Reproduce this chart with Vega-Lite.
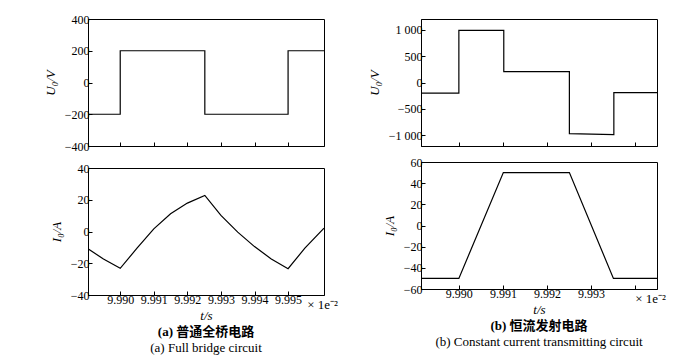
{
  "$schema": "https://vega.github.io/schema/vega-lite/v6.json",
  "background": "white",
  "padding": {"left": 43, "top": 12, "right": 5, "bottom": 0},
  "config": {
    "view": {"stroke": "black", "strokeWidth": 1},
    "axis": {
      "grid": false, "domainColor": "black", "tickColor": "black", "tickSize": -4,
      "labelColor": "black", "labelFont": "Liberation Serif", "labelFontSize": 12, "labelPadding": 3, "labelOverlap": false,
      "titleFont": "Liberation Serif", "titleFontSize": 13, "titleFontWeight": "normal", "titleFontStyle": "italic", "titleColor": "black"
    },
    "line": {"color": "black", "strokeWidth": 1.2}
  },
  "datasets": {
    "uA": [
      {"i": 0, "t": 9.98904, "v": -200}, {"i": 1, "t": 9.990, "v": -200}, {"i": 2, "t": 9.990, "v": 200},
      {"i": 3, "t": 9.99252, "v": 200}, {"i": 4, "t": 9.99252, "v": -200}, {"i": 5, "t": 9.995, "v": -200},
      {"i": 6, "t": 9.995, "v": 200}, {"i": 7, "t": 9.99607, "v": 200}
    ],
    "iA": [
      {"i": 0, "t": 9.98904, "v": -10.9}, {"i": 1, "t": 9.9895, "v": -17.3}, {"i": 2, "t": 9.990, "v": -23.2},
      {"i": 3, "t": 9.9905, "v": -10.5}, {"i": 4, "t": 9.991, "v": 1.7}, {"i": 5, "t": 9.9915, "v": 11.2},
      {"i": 6, "t": 9.992, "v": 17.9}, {"i": 7, "t": 9.99252, "v": 22.7}, {"i": 8, "t": 9.993, "v": 10.1},
      {"i": 9, "t": 9.9935, "v": -0.4}, {"i": 10, "t": 9.994, "v": -9.5}, {"i": 11, "t": 9.9945, "v": -17.3},
      {"i": 12, "t": 9.995, "v": -23.4}, {"i": 13, "t": 9.9955, "v": -10.5}, {"i": 14, "t": 9.99607, "v": 2.1}
    ],
    "uB": [
      {"i": 0, "t": 9.98914, "v": -202}, {"i": 1, "t": 9.990, "v": -202}, {"i": 2, "t": 9.990, "v": 984},
      {"i": 3, "t": 9.99102, "v": 984}, {"i": 4, "t": 9.99102, "v": 205}, {"i": 5, "t": 9.99251, "v": 205},
      {"i": 6, "t": 9.99251, "v": -965}, {"i": 7, "t": 9.99352, "v": -985}, {"i": 8, "t": 9.99352, "v": -190},
      {"i": 9, "t": 9.9945, "v": -190}
    ],
    "iB": [
      {"i": 0, "t": 9.98914, "v": -50}, {"i": 1, "t": 9.990, "v": -50}, {"i": 2, "t": 9.99101, "v": 50},
      {"i": 3, "t": 9.99251, "v": 50}, {"i": 4, "t": 9.99351, "v": -50}, {"i": 5, "t": 9.9945, "v": -50}
    ]
  },
  "spacing": 28,
  "hconcat": [
    {
      "spacing": 8,
      "title": {"text": "(a) 普通全桥电路", "subtitle": "(a) Full bridge circuit", "orient": "bottom", "anchor": "middle", "frame": "group", "dx": 118, "font": "Liberation Serif, Noto Sans CJK SC", "fontSize": 13, "fontWeight": "bold", "color": "black", "subtitleColor": "black", "subtitleFontSize": 13, "subtitleFont": "Liberation Serif", "subtitlePadding": 3, "offset": 3},
      "vconcat": [
        {
          "width": 236, "height": 127,
          "data": {"name": "uA"},
          "mark": {"type": "line", "clip": true},
          "encoding": {
            "x": {"field": "t", "type": "quantitative", "scale": {"domain": [9.98904, 9.99607], "nice": false, "zero": false},
                  "axis": {"values": [9.990, 9.991, 9.992, 9.993, 9.994, 9.995], "labels": false, "title": null}},
            "y": {"field": "v", "type": "quantitative", "scale": {"domain": [-400, 400], "nice": false},
                  "axis": {"values": [-400, -200, 0, 200, 400], "title": "U₀/V", "titlePadding": 7}},
            "order": {"field": "i"}
          }
        },
        {
          "width": 236, "height": 127,
          "layer": [
            {
              "data": {"name": "iA"},
              "mark": {"type": "line", "clip": true},
              "encoding": {
                "x": {"field": "t", "type": "quantitative", "scale": {"domain": [9.98904, 9.99607], "nice": false, "zero": false},
                      "axis": {"values": [9.990, 9.991, 9.992, 9.993, 9.994, 9.995], "format": ".3f", "title": "t/s", "titlePadding": 4, "labelOverlap": false}},
                "y": {"field": "v", "type": "quantitative", "scale": {"domain": [-40, 40], "nice": false},
                      "axis": {"values": [-40, -20, 0, 20, 40], "title": "I₀/A", "titlePadding": 7, "labelOverlap": false}},
                "order": {"field": "i"}
              }
            },
            {
              "data": {"values": [{"label": "× 1e⁻²"}]},
              "mark": {"type": "text", "align": "right", "baseline": "middle", "dx": 14, "dy": 10, "font": "Liberation Serif", "fontSize": 13, "color": "black"},
              "encoding": {
                "x": {"datum": 9.99607, "type": "quantitative", "scale": {"domain": [9.98904, 9.99607], "nice": false, "zero": false},
                      "axis": {"values": [9.990, 9.991, 9.992, 9.993, 9.994, 9.995], "format": ".3f", "title": "t/s", "titlePadding": 4, "labelOverlap": false}},
                "y": {"datum": -40, "type": "quantitative", "scale": {"domain": [-40, 40], "nice": false},
                      "axis": {"values": [-40, -20, 0, 20, 40], "title": "I₀/A", "titlePadding": 7, "labelOverlap": false}},
                "text": {"field": "label"}
              }
            }
          ]
        }
      ]
    },
    {
      "spacing": 8,
      "title": {"text": "(b) 恒流发射电路", "subtitle": "(b) Constant current transmitting circuit", "orient": "bottom", "anchor": "middle", "frame": "group", "dx": 118, "font": "Liberation Serif, Noto Sans CJK SC", "fontSize": 13, "fontWeight": "bold", "color": "black", "subtitleColor": "black", "subtitleFontSize": 13, "subtitleFont": "Liberation Serif", "subtitlePadding": 3, "offset": 3},
      "vconcat": [
        {
          "width": 236, "height": 127,
          "data": {"name": "uB"},
          "mark": {"type": "line", "clip": true},
          "encoding": {
            "x": {"field": "t", "type": "quantitative", "scale": {"domain": [9.98914, 9.9945], "nice": false, "zero": false},
                  "axis": {"values": [9.990, 9.991, 9.992, 9.993, 9.994], "labels": false, "title": null}},
            "y": {"field": "v", "type": "quantitative", "scale": {"domain": [-1200, 1200], "nice": false},
                  "axis": {"values": [-1000, -500, 0, 500, 1000], "title": "U₀/V", "labelExpr": "replace(format(datum.value, ','), ',', ' ')", "titlePadding": 7}},
            "order": {"field": "i"}
          }
        },
        {
          "width": 236, "height": 127,
          "layer": [
            {
              "data": {"name": "iB"},
              "mark": {"type": "line", "clip": true},
              "encoding": {
                "x": {"field": "t", "type": "quantitative", "scale": {"domain": [9.98914, 9.9945], "nice": false, "zero": false},
                      "axis": {"values": [9.990, 9.991, 9.992, 9.993, 9.994], "labelExpr": "datum.value > 9.9935 ? '' : format(datum.value, '.3f')", "title": "t/s", "titlePadding": 4, "labelOverlap": false}},
                "y": {"field": "v", "type": "quantitative", "scale": {"domain": [-60, 60], "nice": false},
                      "axis": {"values": [-60, -40, -20, 0, 20, 40, 60], "title": "I₀/A", "titlePadding": 7, "labelOverlap": false}},
                "order": {"field": "i"}
              }
            },
            {
              "data": {"values": [{"label": "× 1e⁻²"}]},
              "mark": {"type": "text", "align": "right", "baseline": "middle", "dx": 9, "dy": 10, "font": "Liberation Serif", "fontSize": 13, "color": "black"},
              "encoding": {
                "x": {"datum": 9.9945, "type": "quantitative", "scale": {"domain": [9.98914, 9.9945], "nice": false, "zero": false},
                      "axis": {"values": [9.990, 9.991, 9.992, 9.993, 9.994], "labelExpr": "datum.value > 9.9935 ? '' : format(datum.value, '.3f')", "title": "t/s", "titlePadding": 4, "labelOverlap": false}},
                "y": {"datum": -60, "type": "quantitative", "scale": {"domain": [-60, 60], "nice": false},
                      "axis": {"values": [-60, -40, -20, 0, 20, 40, 60], "title": "I₀/A", "titlePadding": 7, "labelOverlap": false}},
                "text": {"field": "label"}
              }
            }
          ]
        }
      ]
    }
  ]
}
